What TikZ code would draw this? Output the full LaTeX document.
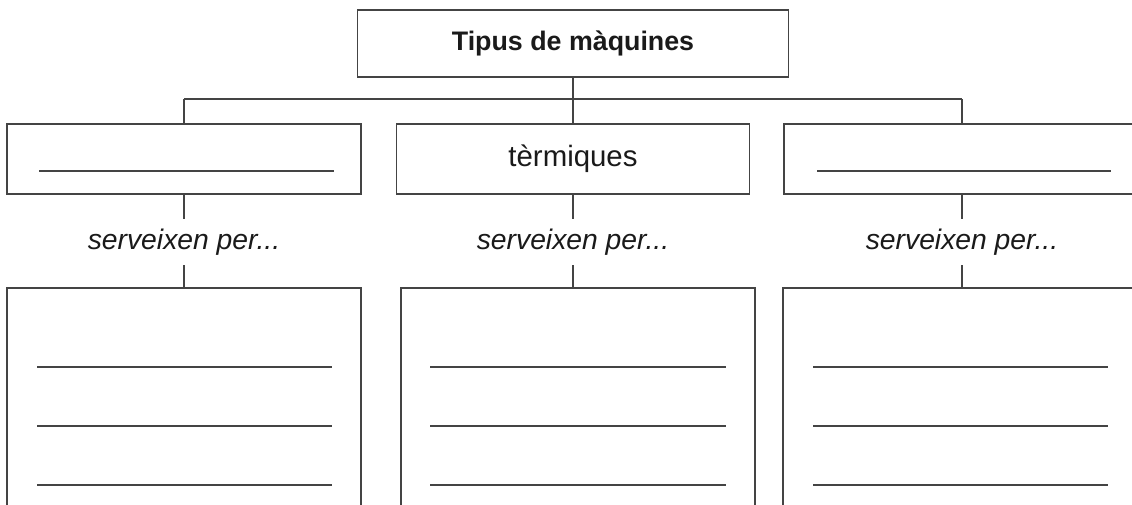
\documentclass[tikz,border=0pt]{standalone}
\usepackage{fontspec}
\setmainfont{Liberation Sans}
\definecolor{ln}{HTML}{444444}
\definecolor{tx}{HTML}{1A1A1A}
\begin{document}
\begin{tikzpicture}[x=1pt,y=-1pt,
  box/.style={draw=ln,line width=1.4pt,rectangle,inner sep=0pt,text=tx},
  conn/.style={draw=ln,line width=1.4pt},
  blank/.style={draw=ln,line width=1.4pt},
  lbl/.style={inner sep=0pt,minimum height=46pt,text height=20pt,text depth=6pt,text=tx,font=\fontsize{28.3}{31}\selectfont\itshape}]
\useasboundingbox (0,0) rectangle (1132,504);
\clip (0,0) rectangle (1132,504);
\fill[white] (0,0) rectangle (1132,504);
% top
\node[box,minimum width=431pt,minimum height=67pt,font=\fontsize{26.8}{30}\selectfont\bfseries] (top) at (573,43.5) {Tipus de màquines};
% middle row
\node[box,minimum width=354pt,minimum height=70pt] (A) at (184,159) {};
\node[box,minimum width=353pt,minimum height=70pt,font=\fontsize{29.4}{32}\selectfont] (B) at (573,159) {tèrmiques};
\node[box,minimum width=356pt,minimum height=70pt] (C) at (962,159) {};
% bus
\coordinate (busL) at (184,99);
\coordinate (busR) at (962,99);
\draw[conn] (busL) -- (busR);
\draw[conn] (top.south) -- (top.south |- busL);
\draw[conn] (busL) -- (A.north);
\draw[conn] (top.south |- busL) -- (B.north);
\draw[conn] (busR) -- (C.north);
% blank lines in A and C
\coordinate (a1) at (39,171); \coordinate (a2) at (334,171);
\draw[blank] (a1) -- (a2);
\coordinate (c1) at (817,171); \coordinate (c2) at (1111,171);
\draw[blank] (c1) -- (c2);
% labels
\node[lbl] (sA) at (184,242) {serveixen per...};
\node[lbl] (sB) at (573,242) {serveixen per...};
\node[lbl] (sC) at (962,242) {serveixen per...};
% bottom boxes
\node[box,minimum width=354pt,minimum height=232pt] (DA) at (184,404) {};
\node[box,minimum width=354pt,minimum height=232pt] (DB) at (578,404) {};
\node[box,minimum width=356pt,minimum height=232pt] (DC) at (961,404) {};
\draw[conn] (A.south) -- (sA.north);
\draw[conn] (sA.south) -- (sA.south |- DA.north);
\draw[conn] (B.south) -- (sB.north);
\draw[conn] (sB.south) -- (sB.south |- DB.north);
\draw[conn] (C.south) -- (sC.north);
\draw[conn] (sC.south) -- (sC.south |- DC.north);
% writing lines
\foreach \y in {367,426,485}{
  \draw[blank] (37,\y) -- (332,\y);
  \draw[blank] (430,\y) -- (726,\y);
  \draw[blank] (813,\y) -- (1108,\y);
}
\end{tikzpicture}
\end{document}
